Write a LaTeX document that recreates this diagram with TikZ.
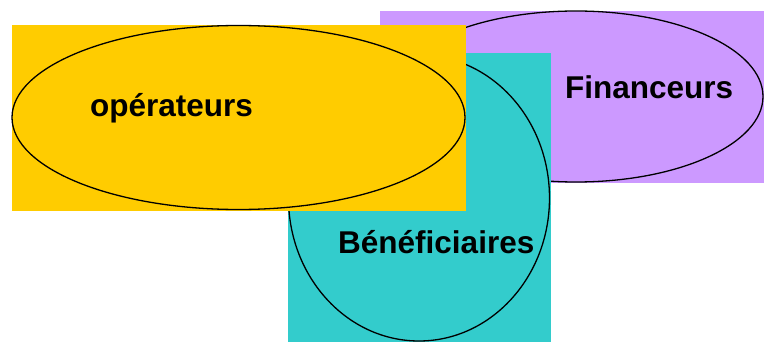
\documentclass[tikz,border=0pt]{standalone}
\usepackage{fontspec}
\setmainfont{Liberation Sans}
\begin{document}
\begin{tikzpicture}[x=1pt,y=-1pt,
  outline/.style={draw=black,line width=1.3pt},
  label/.style={anchor=base west,inner sep=0pt,font=\fontsize{31.5}{36}\selectfont\bfseries}]
\definecolor{lilac}{HTML}{CC99FF}
\definecolor{teal}{HTML}{33CCCC}
\definecolor{gold}{HTML}{FFCC00}
\useasboundingbox (0,0) rectangle (764,342);
% funders
\fill[lilac] (380,11) rectangle (764,183);
\draw[outline] (576,96.5) ellipse [x radius=187,y radius=85.5];
\node[label] (fin) at (565,99) {Financeurs};
% beneficiaries
\fill[teal] (288,53) rectangle (551,342);
\draw[outline] (419,198) ellipse [x radius=130.5,y radius=143];
\node[label] (ben) at (338,254) {Bénéficiaires};
% operators
\fill[gold] (12,25) rectangle (466,211);
\draw[outline] (238.5,117.5) ellipse [x radius=226.5,y radius=92];
\node[label] (ope) at (90,117) {opérateurs};
\end{tikzpicture}
\end{document}
